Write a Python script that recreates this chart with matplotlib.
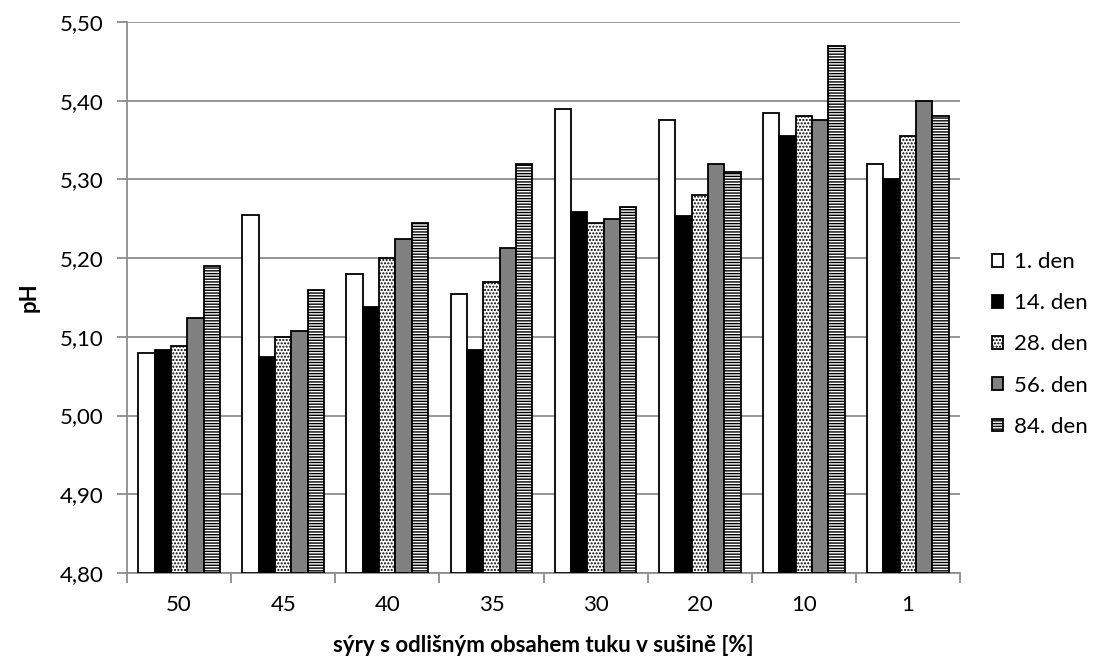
import numpy as np
import matplotlib
matplotlib.use("Agg")
import matplotlib.pyplot as plt

plt.rcParams['font.family'] = ['Lato', 'DejaVu Sans']
plt.rcParams['hatch.linewidth'] = 1.0

categories = ['50', '45', '40', '35', '30', '20', '10', '1']
series_names = ['1. den', '14. den', '28. den', '56. den', '84. den']

den_1 = [5.08, 5.255, 5.18, 5.155, 5.39, 5.375, 5.385, 5.32]
den_14 = [5.083, 5.074, 5.138, 5.083, 5.259, 5.254, 5.355, 5.30]
den_28 = [5.089, 5.10, 5.20, 5.17, 5.245, 5.28, 5.38, 5.355]
den_56 = [5.124, 5.108, 5.224, 5.213, 5.25, 5.32, 5.375, 5.40]
den_84 = [5.19, 5.16, 5.245, 5.32, 5.265, 5.31, 5.47, 5.38]

series = [den_1, den_14, den_28, den_56, den_84]
styles = [
    dict(facecolor='white', hatch=None),
    dict(facecolor='black', hatch=None),
    dict(facecolor='white', hatch='.....'),
    dict(facecolor='#808080', hatch=None),
    dict(facecolor='white', hatch='------'),
]

fs = 16
fig = plt.figure(figsize=(11.03, 6.66), dpi=100)
# axes box: x 127..960 px, y 22..573 px
ax = fig.add_axes([127 / 1103, 1 - 573 / 666, 833 / 1103, 551 / 666])

x = np.arange(len(categories))
width = 0.157
base = 4.80
handles = []
for i, (vals, st) in enumerate(zip(series, styles)):
    offs = (i - 2) * width
    heights = np.array(vals) - base
    b = ax.bar(x + offs, heights, width, bottom=base, edgecolor='black',
               linewidth=1.3, label=series_names[i], zorder=3, **st)
    handles.append(b)

ax.set_ylim(4.80, 5.50)
ax.set_xlim(-0.5, len(categories) - 0.5)
yt = np.arange(4.80, 5.501, 0.10)
ax.set_yticks(yt)
ax.set_yticklabels([f'{v:.2f}'.replace('.', ',') for v in yt], fontsize=fs)
ax.yaxis.grid(True, color='#8c8c8c', linewidth=1.3, zorder=0)
ax.set_axisbelow(True)

ax.set_xticks(x)
ax.set_xticklabels(categories, fontsize=fs)
ax.tick_params(axis='x', which='major', length=0, pad=16)
ax.set_xticks(np.arange(-0.5, len(categories)), minor=True)
ax.tick_params(axis='x', which='minor', length=7, color='#8c8c8c', width=1.3)
ax.tick_params(axis='y', length=7, color='#8c8c8c', width=1.3, pad=10)

for s in ['top', 'right']:
    ax.spines[s].set_visible(False)
for s in ['left', 'bottom']:
    ax.spines[s].set_color('#8c8c8c')
    ax.spines[s].set_linewidth(1.3)

ax.set_ylabel('pH', fontsize=fs, fontweight='bold', labelpad=14)
ax.set_xlabel('sýry s odlišným obsahem tuku v sušině [%]', fontsize=fs,
              fontweight='bold', labelpad=14)

fig.legend(handles=handles, labels=series_names, loc='center left',
           bbox_to_anchor=(992 / 1103, 1 - 344.5 / 666), frameon=False,
           fontsize=fs, handlelength=0.5, handleheight=0.5,
           handletextpad=0.5, labelspacing=0.95, borderpad=0, borderaxespad=0)

fig.savefig('out.png', dpi=100)
